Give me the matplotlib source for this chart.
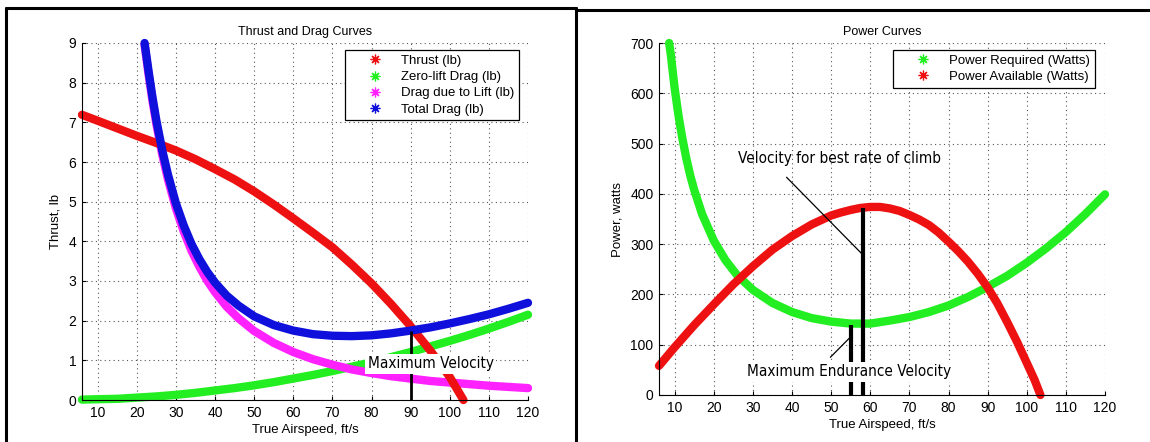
import matplotlib
matplotlib.use('Agg')
import matplotlib.pyplot as plt
from matplotlib.lines import Line2D
from matplotlib import font_manager

# ---- values ----
# thrust and drag, lb vs true airspeed, ft/s
thrust_v = [6, 10, 15, 20, 25, 30, 35, 40, 45, 50, 55, 60, 65, 70, 75, 80, 85, 90, 95, 100, 103.5]
thrust_lb = [7.19, 7.04, 6.85, 6.66, 6.48, 6.29, 6.07, 5.82, 5.56, 5.26, 4.93, 4.58, 4.22, 3.85,
             3.41, 2.94, 2.42, 1.86, 1.25, 0.58, 0.0]

zero_lift_v = [6, 10, 15, 20, 25, 30, 35, 40, 45, 50, 55, 60, 65, 70, 75, 80, 85, 90, 95, 100,
               105, 110, 115, 120]
zero_lift_lb = [0.01, 0.02, 0.03, 0.06, 0.09, 0.13, 0.18, 0.24, 0.30, 0.37, 0.45, 0.54, 0.63,
                0.73, 0.84, 0.95, 1.08, 1.21, 1.35, 1.49, 1.64, 1.80, 1.97, 2.15]

drag_v = [22, 23, 24, 25, 26.5, 28, 30, 32, 34, 36, 38, 40, 43, 46, 50, 55, 60, 65, 70, 75, 80,
          85, 90, 95, 100, 105, 110, 115, 120]
lift_drag_lb = [8.95, 8.22, 7.55, 6.96, 6.19, 5.55, 4.83, 4.25, 3.76, 3.36, 3.01, 2.72, 2.35,
                2.06, 1.74, 1.44, 1.21, 1.03, 0.89, 0.77, 0.68, 0.60, 0.54, 0.48, 0.44, 0.40,
                0.36, 0.33, 0.30]
total_drag_lb = [9.0, 8.30, 7.64, 7.05, 6.30, 5.67, 4.96, 4.40, 3.93, 3.55, 3.23, 2.96, 2.63,
                 2.38, 2.11, 1.89, 1.75, 1.66, 1.62, 1.61, 1.63, 1.68, 1.75, 1.83, 1.93, 2.04,
                 2.16, 2.30, 2.45]
max_velocity = 90

# power, watts vs true airspeed, ft/s
p_req_v = [8.6, 9, 10, 11, 12, 13, 14, 15, 17, 20, 23, 26, 30, 35, 40, 45, 50, 55, 60, 65, 70,
           75, 80, 85, 90, 95, 100, 105, 110, 115, 120]
p_req_w = [700, 678, 610, 555, 509, 470, 436, 408, 360, 307, 268, 238, 209, 183, 165, 153, 146,
           142, 142, 148, 155, 165, 178, 195, 215, 237, 263, 292, 324, 360, 399]
p_avail_v = [6, 10, 15, 20, 25, 30, 35, 40, 45, 50, 52.5, 55, 57.5, 60, 62.5, 65, 67.5, 70,
             72.5, 75, 77.5, 80, 82.5, 85, 87.5, 90, 92.5, 95, 97.5, 100, 102, 103.5]
p_avail_w = [58, 95, 139, 180, 220, 256, 289, 316, 339, 357, 363, 368, 372, 374, 374, 371, 366,
             358, 349, 338, 323, 305, 286, 265, 241, 214, 182, 145, 106, 64, 30, 0]
endurance_v = 55.1
climb_v = 58.2

RED, GREEN, MAGENTA, BLUE = '#ee1111', '#22ee22', '#ff22ff', '#1010dd'
STAR = (8, 2, 0)  # matlab style '*'

plt.rcParams['font.family'] = ['Liberation Sans', 'DejaVu Sans']
plt.rcParams['font.size'] = 9.5
plt.rcParams['lines.solid_joinstyle'] = 'round'
plt.rcParams['lines.solid_capstyle'] = 'round'


def note_font():
    # the callouts use a narrow face; take whatever narrow sans is around
    fonts = font_manager.fontManager.ttflist
    if any(f.name == 'Liberation Sans Narrow' for f in fonts):
        return {'family': 'Liberation Sans Narrow', 'fontsize': 13.5}
    if any(f.name == 'DejaVu Sans' and 'condensed' in str(f.stretch) for f in fonts):
        return {'family': 'DejaVu Sans', 'fontstretch': 'condensed', 'fontsize': 11}
    return {'family': 'Liberation Sans', 'fontsize': 11}


def style_axes(ax, title, ylabel, yticks):
    ax.set_xlim(6, 120)
    ax.set_xticks(range(10, 121, 10))
    ax.set_ylim(yticks[0], yticks[-1])
    ax.set_yticks(yticks)
    ax.grid(True, ls=(0, (1, 3)), lw=0.8, color='#555555')
    ax.spines['top'].set_visible(False)
    ax.spines['right'].set_visible(False)
    ax.tick_params(direction='in', length=3, labelsize=10, pad=4)
    ax.set_title(title, fontsize=9, pad=6)
    ax.set_xlabel('True Airspeed, ft/s', labelpad=3)
    ax.set_ylabel(ylabel, labelpad=5)


def star_legend(ax, colors, labels, anchor):
    handles = [Line2D([], [], marker=STAR, ls='none', color=c, markersize=7, markeredgewidth=0.9)
               for c in colors]
    leg = ax.legend(handles, labels, loc='upper left', bbox_to_anchor=anchor, fontsize=9.5,
                    fancybox=False, edgecolor='k', framealpha=1, borderpad=0.35,
                    labelspacing=0.3, handlelength=3.8, handletextpad=0.1, borderaxespad=0)
    leg.get_frame().set_linewidth(0.9)
    leg.set_zorder(10)


W, H = 1150, 442
fig = plt.figure(figsize=(W / 100, H / 100), dpi=100)
nf = note_font()
lw = 6

# ---- left: thrust and drag ----
ax1 = fig.add_axes([82 / W, 1 - 400 / H, 446 / W, 357 / H])
ax1.plot(zero_lift_v, zero_lift_lb, color=GREEN, lw=lw, clip_on=False)
ax1.plot(drag_v, lift_drag_lb, color=MAGENTA, lw=lw, clip_on=False)
ax1.plot(thrust_v, thrust_lb, color=RED, lw=lw, clip_on=False)
ax1.plot(drag_v, total_drag_lb, color=BLUE, lw=lw, clip_on=False)
style_axes(ax1, 'Thrust and Drag Curves', 'Thrust, lb', list(range(0, 10)))
ax1.vlines(max_velocity, 0, total_drag_lb[drag_v.index(max_velocity)], colors='k', lw=2, zorder=4)
ax1.text(79, 0.91, 'Maximum Velocity', ha='left', va='center', zorder=6,
         bbox=dict(fc='white', ec='none', pad=2), **nf)
star_legend(ax1, [RED, GREEN, MAGENTA, BLUE],
            ['Thrust (lb)', 'Zero-lift Drag (lb)', 'Drag due to Lift (lb)', 'Total Drag (lb)'],
            (0.59, 0.98))

# ---- right: power ----
ax2 = fig.add_axes([659 / W, 1 - 395 / H, 446 / W, 352 / H])
ax2.plot(p_req_v, p_req_w, color=GREEN, lw=lw, clip_on=False)
ax2.plot(p_avail_v, p_avail_w, color=RED, lw=lw, clip_on=False)
style_axes(ax2, 'Power Curves', 'Power, watts', list(range(0, 701, 100)))
ax2.vlines([endurance_v, climb_v], 0, [min(p_req_w) - 3, max(p_avail_w) - 2], colors='k', lw=3, zorder=4)
ax2.annotate('', xy=(57.7, 282), xytext=(38.6, 433),
             arrowprops=dict(arrowstyle='-', color='k', lw=0.9, shrinkA=0, shrinkB=0))
ax2.annotate('', xy=(54.9, 115), xytext=(49.8, 75),
             arrowprops=dict(arrowstyle='-', color='k', lw=0.9, shrinkA=0, shrinkB=0))
ax2.text(26.1, 471, 'Velocity for best rate of climb', ha='left', va='center', zorder=6, **nf)
ax2.text(28.4, 46, 'Maximum Endurance Velocity', ha='left', va='center', zorder=6,
         bbox=dict(fc='white', ec='none', pad=2), **nf)
star_legend(ax2, [GREEN, RED], ['Power Required (Watts)', 'Power Available (Watts)'],
            (0.525, 0.98))

# ---- the black frames round the two pasted panels ----
def frame_line(x0, y0, x1, y1):
    fig.add_artist(Line2D([x0 / W, x1 / W], [1 - y0 / H, 1 - y1 / H], color='k', lw=2.2,
                          transform=fig.transFigure))

frame_line(6, 8, 576, 8)
frame_line(6, 8, 6, H)
frame_line(576, 8, 576, H)
frame_line(576, 10, W, 10)

fig.savefig('out.png', dpi=100)
